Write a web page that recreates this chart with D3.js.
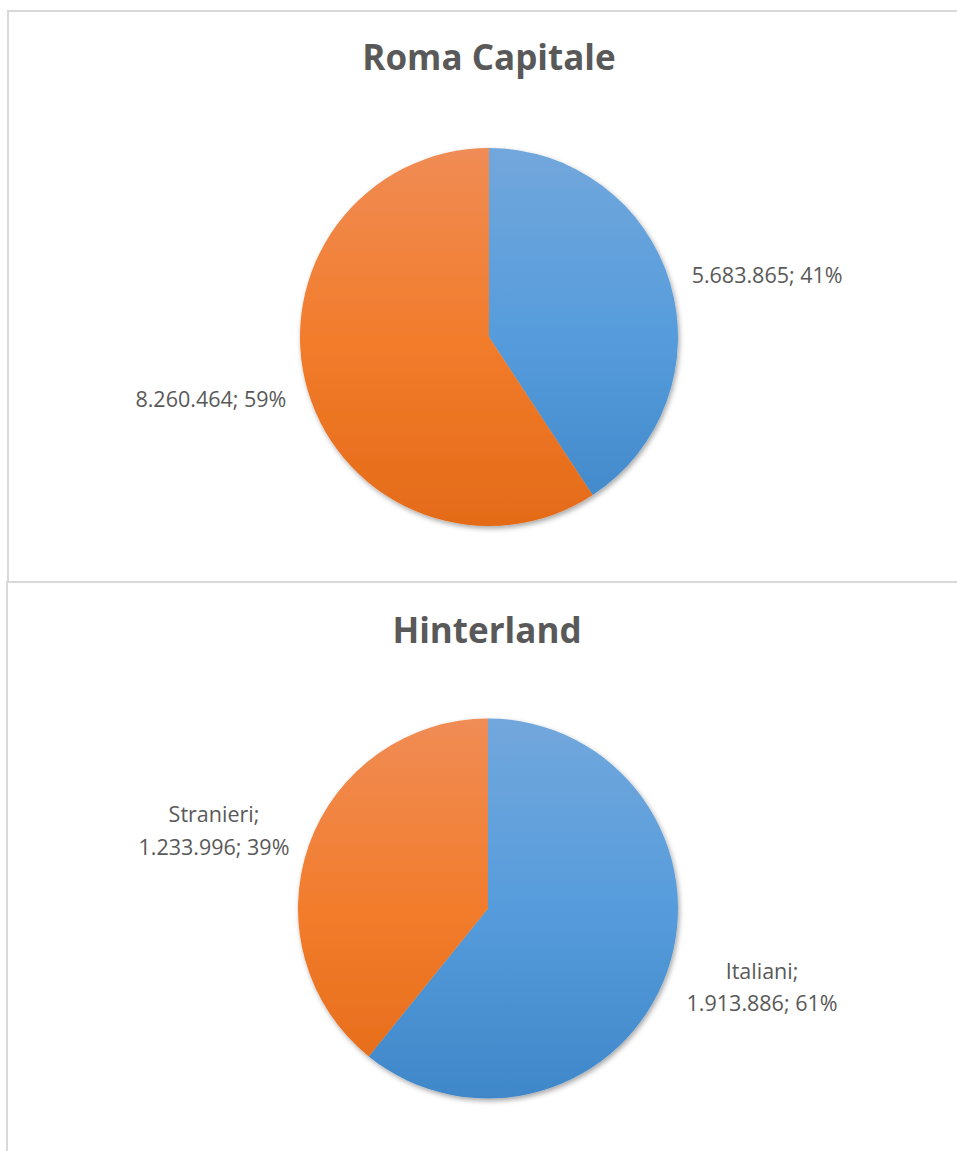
<!DOCTYPE html>
<html>
<head>
<meta charset="utf-8">
<script src="https://cdn.jsdelivr.net/npm/d3@7/dist/d3.min.js"></script>
<style>
  html, body { margin: 0; padding: 0; background: #ffffff; }
  svg { display: block; }
</style>
</head>
<body>
<script>
// ---- DATA ----
const chartTitles = ["Roma Capitale", "Hinterland"];
const categories = ["Italiani", "Stranieri"];
const romaValues = [5683865, 8260464];
const hinterlandValues = [1913886, 1233996];
const romaLabels = [["5.683.865; 41%"], ["8.260.464; 59%"]];
const hinterlandLabels = [["Italiani;", "1.913.886; 61%"], ["Stranieri;", "1.233.996; 39%"]];

// ---- LAYOUT ----
const W = 957, H = 1151;
const panels = [
  { x: 8, y: 11, w: 1000, h: 571, cx: 489, cy: 337, r: 189, titleY: 70, titleX: 489,
    labelRotate: 4, values: romaValues, labels: romaLabels },
  { x: 7, y: 582, w: 1000, h: 700, cx: 488, cy: 908.5, r: 190, titleY: 643, titleX: 487,
    labelRotate: -3.5, values: hinterlandValues, labels: hinterlandLabels }
];
const labelRadius = 285;
const lineH = 32.5;
const gradStops = [
  ["#72a7dc", "#569cdc", "#3f87c9"],
  ["#f08c55", "#f27c2c", "#e46b18"]
];

const svg = d3.select("body").append("svg").attr("width", W).attr("height", H);
const defs = svg.append("defs");
const shadow = defs.append("filter").attr("id", "shadow")
  .attr("x", "-10%").attr("y", "-10%").attr("width", "120%").attr("height", "120%");
shadow.append("feDropShadow").attr("dx", 1.5).attr("dy", 2.5).attr("stdDeviation", 2.5)
  .attr("flood-color", "#000").attr("flood-opacity", 0.35);

const pie = d3.pie().sort(null).value(d => d);

panels.forEach((p, pi) => {
  svg.append("rect")
    .attr("x", p.x).attr("y", p.y).attr("width", p.w).attr("height", p.h)
    .attr("fill", "none").attr("stroke", "#d9d9d9").attr("stroke-width", 2);

  svg.append("text")
    .attr("x", p.titleX).attr("y", p.titleY)
    .attr("text-anchor", "middle")
    .attr("font-family", "'Open Sans', sans-serif")
    .attr("font-weight", 700)
    .attr("font-size", 35)
    .attr("fill", "#595959")
    .text(chartTitles[pi]);

  gradStops.forEach((gs, gi) => {
    const g = defs.append("linearGradient").attr("id", `g${pi}_${gi}`)
      .attr("gradientUnits", "userSpaceOnUse")
      .attr("x1", 0).attr("x2", 0).attr("y1", -p.r).attr("y2", p.r);
    gs.forEach((c, k) => g.append("stop").attr("offset", k / (gs.length - 1)).attr("stop-color", c));
  });

  const arcs = pie(p.values);
  const arc = d3.arc().innerRadius(0).outerRadius(p.r);
  const gp = svg.append("g").attr("transform", `translate(${p.cx},${p.cy})`);
  gp.append("g").attr("filter", "url(#shadow)")
    .selectAll("path").data(arcs).join("path")
    .attr("d", arc)
    .attr("fill", (d, i) => `url(#g${pi}_${i})`);

  const rot = p.labelRotate * Math.PI / 180;
  arcs.forEach((d, i) => {
    const a = (d.startAngle + d.endAngle) / 2 + rot;
    const lx = labelRadius * Math.sin(a);
    const ly = -labelRadius * Math.cos(a);
    const lines = p.labels[i];
    const t = gp.append("text")
      .attr("text-anchor", "middle")
      .attr("font-family", "'Open Sans', sans-serif")
      .attr("font-size", 21.5)
      .attr("fill", "#595959");
    const y0 = ly - (lines.length - 1) * lineH / 2 + 8;
    lines.forEach((ln, k) => {
      t.append("tspan").attr("x", lx).attr("y", y0 + k * lineH).text(ln);
    });
  });
});
</script>
</body>
</html>
